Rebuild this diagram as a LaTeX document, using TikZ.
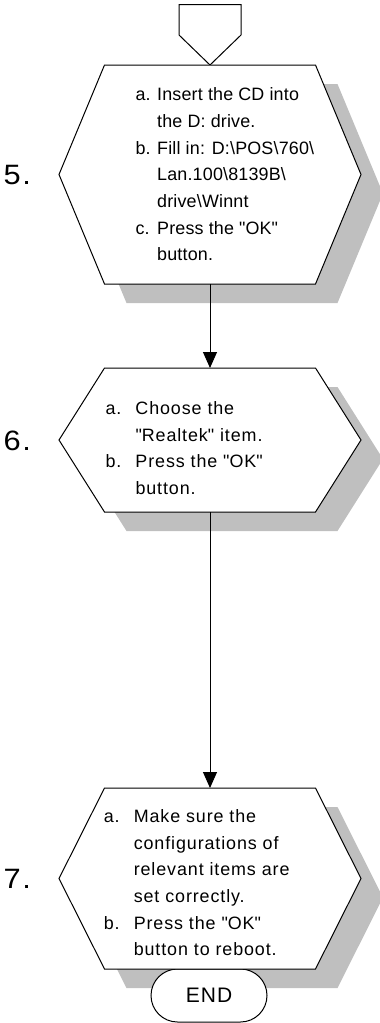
\documentclass[tikz,border=0pt]{standalone}
\usepackage{fontspec}
\newfontfamily\flowfont{Liberation Sans}[LetterSpace=5]
\newfontfamily\flowfontnarrow{Liberation Sans}[LetterSpace=1]
\newfontfamily\numfont{Liberation Sans}[LetterSpace=6, FakeStretch=1.1]
\usepackage{tikz}
\usetikzlibrary{arrows.meta}
\tikzset{
  every picture/.style={line width=1pt},
}

\begin{document}
\begin{tikzpicture}[x=1pt, y=-1pt,
  hexbox/.style={draw=black, fill=white},
  shadebox/.style={fill=gray!50, draw=none},
  steptext/.style={anchor=base west, inner sep=0pt,
    font=\flowfont\fontsize{17.9}{26.7}\selectfont},
  stepnum/.style={anchor=base west, inner sep=0pt,
    font=\numfont\fontsize{28}{28}\selectfont},
  endbox/.style={draw=black, fill=white, rounded corners=26.5pt,
    minimum width=116pt, minimum height=53pt, inner sep=0pt,
    font=\flowfont\fontsize{21}{21}\selectfont},
  flow/.style={-{Triangle[length=16pt,width=14pt]}}]

\useasboundingbox (0,0) rectangle (380,1023);

%% Off-page connector
\draw[hexbox] (179,4.5) -- (241,4.5) -- (241,35) -- (210,65) -- (179,35) -- cycle;

%% Step 5
\begin{scope}[shift={(22,19)}]
  \fill[shadebox] (104.5,65) -- (315.5,65) -- (361,174.5) -- (315.5,284)
    -- (104.5,284) -- (59,174.5) -- cycle;
\end{scope}
\draw[hexbox] (104.5,65) -- (315.5,65) -- (361,174.5) -- (315.5,284)
  -- (104.5,284) -- (59,174.5) -- cycle;
\coordinate (s5bot) at (210,284);
\node[stepnum] (n5) at (3,184.5) {5.};
\node[steptext, font=\flowfontnarrow\fontsize{17.9}{26.7}\selectfont]
  (t5) at (135,100.6) {\begin{tabular}[t]{@{}l@{}l@{}}
  \makebox[21.7pt][l]{a.} & Insert the CD into\\
   & the D: drive.\\
  \makebox[21.7pt][l]{b.} & Fill in: D:\textbackslash POS\textbackslash 760\textbackslash\\
   & Lan.100\textbackslash 8139B\textbackslash\\
   & drive\textbackslash Winnt\\
  \makebox[21.7pt][l]{c.} & Press the \textquotedbl OK\textquotedbl\\
   & button.
\end{tabular}};

%% Step 6
\begin{scope}[shift={(22,19)}]
  \fill[shadebox] (104.5,368) -- (315.5,368) -- (361,440) -- (315.5,512)
    -- (104.5,512) -- (59,440) -- cycle;
\end{scope}
\draw[hexbox] (104.5,368) -- (315.5,368) -- (361,440) -- (315.5,512)
  -- (104.5,512) -- (59,440) -- cycle;
\coordinate (s6top) at (210,368);
\coordinate (s6bot) at (210,512);
\node[stepnum] (n6) at (3,450) {6.};
\node[steptext] (t6) at (105,414.3) {\begin{tabular}[t]{@{}l@{}l@{}}
  \makebox[30pt][l]{a.} & Choose the\\
   & \textquotedbl Realtek\textquotedbl\ item.\\
  \makebox[30pt][l]{b.} & Press the \textquotedbl OK\textquotedbl\\
   & button.
\end{tabular}};

%% Step 7
\begin{scope}[shift={(22,19)}]
  \fill[shadebox] (104.5,788) -- (315.5,788) -- (361,878.5) -- (315.5,969)
    -- (104.5,969) -- (59,878.5) -- cycle;
\end{scope}
\node[endbox] (end) at (209,995.5) {END};
\draw[hexbox] (104.5,788) -- (315.5,788) -- (361,878.5) -- (315.5,969)
  -- (104.5,969) -- (59,878.5) -- cycle;
\coordinate (s7top) at (210,788);
\node[stepnum] (n7) at (3,888.5) {7.};
\node[steptext] (t7) at (103.3,822.3) {\begin{tabular}[t]{@{}l@{}l@{}}
  \makebox[30pt][l]{a.} & Make sure the\\
   & configurations of\\
   & relevant items are\\
   & set correctly.\\
  \makebox[30pt][l]{b.} & Press the \textquotedbl OK\textquotedbl\\
   & button to reboot.
\end{tabular}};

%% Arrows
\draw[flow] (s5bot) -- (s6top);
\draw[flow] (s6bot) -- (s7top);

\end{tikzpicture}
\end{document}
